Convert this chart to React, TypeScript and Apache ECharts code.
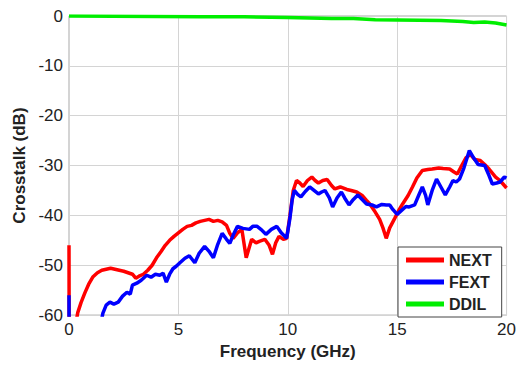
import React, { useEffect, useRef } from "react";
import * as echarts from "echarts";

const xTicks = [0, 5, 10, 15, 20];
const yTicks = [-60, -50, -40, -30, -20, -10, 0];
const seriesNames = ["NEXT", "FEXT", "DDIL"];

const nextData: [number, number][] = [
  [0, -46], [0.01, -70], [0.3, -62], [0.4, -59.5], [0.55, -57.5], [0.73, -55.5], [0.9, -53.8],
  [1.1, -52.3], [1.3, -51.5], [1.5, -51], [1.7, -50.8], [1.9, -50.6], [2.1, -50.8], [2.3, -51],
  [2.5, -51.2], [2.7, -51.5], [2.9, -51.8], [3.05, -52.6], [3.2, -52.2], [3.4, -51.8], [3.6, -51],
  [3.8, -50], [4.0, -48.5], [4.2, -47.3], [4.4, -46], [4.6, -45], [4.8, -44.2], [5.0, -43.5],
  [5.2, -42.8], [5.4, -42.2], [5.6, -42], [5.8, -41.5], [6.0, -41.2], [6.2, -41], [6.4, -40.8],
  [6.6, -41.2], [6.8, -41], [7.0, -41.3], [7.2, -42], [7.35, -43.6], [7.5, -44.6], [7.7, -43.5],
  [7.9, -42.8], [8.1, -48.5], [8.35, -44.8], [8.55, -45.5], [8.7, -45.2], [8.95, -44.8],
  [9.15, -46], [9.3, -47.8], [9.45, -45.5], [9.6, -44.2], [9.8, -44.8], [9.95, -44.6],
  [10.1, -40], [10.25, -35], [10.4, -33], [10.55, -33.5], [10.7, -34.2], [10.9, -33],
  [11.1, -32.3], [11.25, -33], [11.4, -33.5], [11.6, -33], [11.8, -32.8], [12.0, -34],
  [12.15, -34.7], [12.4, -34.3], [12.7, -34.8], [12.9, -35], [13.15, -35.3], [13.4, -36],
  [13.6, -37], [13.75, -37.7], [13.95, -39], [14.2, -40.8], [14.35, -42.5], [14.5, -44.6],
  [14.66, -42.5], [14.9, -40.5], [15.1, -38.8], [15.25, -37.7], [15.5, -36], [15.7, -34.3],
  [15.9, -32.5], [16.15, -31], [16.4, -30.8], [16.6, -30.7], [16.9, -30.5], [17.1, -30.6],
  [17.4, -30.7], [17.6, -31.3], [17.75, -31.7], [17.95, -30], [18.15, -28.4], [18.35, -27.8],
  [18.55, -28.8], [18.8, -29], [19.0, -29.8], [19.2, -30.7], [19.35, -31.5], [19.5, -32.3],
  [19.7, -33], [19.9, -34], [20, -34.5],
];

const fextData: [number, number][] = [
  [0, -56], [0.01, -75], [1.4, -63], [1.55, -59.6], [1.7, -58], [1.87, -57.4], [2.05, -57.8],
  [2.25, -57.4], [2.45, -56.2], [2.65, -55.4], [2.8, -55.8], [2.9, -54], [3.1, -53.6], [3.3, -53],
  [3.55, -52], [3.75, -52.4], [3.95, -51.8], [4.15, -52], [4.3, -51.6], [4.45, -53.4],
  [4.6, -51.8], [4.75, -50.7], [4.9, -50.2], [5.07, -49.5], [5.3, -48.6], [5.5, -48.1],
  [5.75, -49.5], [5.95, -47.6], [6.2, -46.2], [6.4, -47.2], [6.6, -48.5], [6.8, -45.8],
  [7.0, -43.6], [7.2, -44.8], [7.35, -45.6], [7.5, -44], [7.7, -42.2], [7.95, -42.6],
  [8.25, -42.8], [8.4, -42.2], [8.6, -42.2], [8.8, -42.9], [9.0, -43.8], [9.25, -42.8],
  [9.5, -42.2], [9.7, -43.5], [9.95, -44.6], [10.1, -40.5], [10.2, -36.9], [10.3, -35],
  [10.45, -35.8], [10.6, -36.3], [10.8, -35.2], [11.0, -34.3], [11.2, -35], [11.4, -35.7],
  [11.55, -35.3], [11.7, -35], [11.9, -36.5], [12.05, -38.3], [12.25, -36.5], [12.45, -35.3],
  [12.6, -36.5], [12.8, -37.9], [13.0, -36.8], [13.2, -35.9], [13.4, -36.8], [13.6, -37.7],
  [13.85, -37.9], [14.05, -38.3], [14.3, -37.8], [14.5, -37.9], [14.66, -37.9], [14.8, -38.8],
  [15.0, -39.8], [15.2, -39], [15.4, -38.2], [15.55, -38.3], [15.8, -37.9], [16.0, -35.8],
  [16.15, -34.3], [16.3, -36], [16.4, -37.9], [16.6, -35], [16.8, -32.7], [17.0, -34.3],
  [17.2, -35.9], [17.4, -34.3], [17.55, -33], [17.7, -33.3], [17.85, -32.7], [18.05, -30.5],
  [18.3, -27], [18.5, -28.5], [18.7, -29.8], [19.0, -30], [19.2, -32], [19.35, -33.7],
  [19.55, -33.5], [19.7, -33.3], [19.9, -32.3], [20, -32.5],
];

const ddilData: [number, number][] = [
  [0, 0], [2, -0.05], [4, -0.1], [6, -0.15], [8, -0.15], [10, -0.3], [12, -0.5], [13, -0.5],
  [14, -0.75], [15, -0.8], [16, -0.85], [17, -0.9], [18, -1.1], [18.5, -1.3], [19, -1.2],
  [19.5, -1.4], [20, -1.8],
];

const colors = ["#ff0000", "#0000ff", "#00ee00"];

export default function App() {
  const ref = useRef<HTMLDivElement>(null);
  useEffect(() => {
    if (!ref.current) return;
    const chart = echarts.init(ref.current, undefined, { renderer: "svg" });
    const font = "'Liberation Sans', Arial, sans-serif";
    const datasets = [nextData, fextData, ddilData];
    chart.setOption({
      animation: false,
      backgroundColor: "#ffffff",
      grid: {
        left: 69,
        right: 12,
        top: 16,
        bottom: 44,
        show: true,
        borderColor: "#a8a8a8",
        borderWidth: 1,
      },
      xAxis: {
        type: "value",
        min: xTicks[0],
        max: xTicks[xTicks.length - 1],
        interval: xTicks[1] - xTicks[0],
        name: "Frequency (GHz)",
        nameLocation: "middle",
        nameGap: 25,
        nameTextStyle: { fontFamily: font, fontSize: 17, fontWeight: "bold", color: "#222" },
        axisLine: { show: false },
        axisTick: { show: false },
        axisLabel: { fontFamily: font, fontSize: 17, color: "#222", margin: 6 },
        splitLine: { show: true, lineStyle: { color: "#d4d4d4", width: 1 } },
      },
      yAxis: {
        type: "value",
        min: yTicks[0],
        max: yTicks[yTicks.length - 1],
        interval: 10,
        name: "Crosstalk (dB)",
        nameLocation: "middle",
        nameGap: 40,
        nameTextStyle: { fontFamily: font, fontSize: 17, fontWeight: "bold", color: "#222" },
        axisLine: { show: false },
        axisTick: { show: false },
        axisLabel: { fontFamily: font, fontSize: 17, color: "#222", margin: 6 },
        splitLine: { show: true, lineStyle: { color: "#d4d4d4", width: 1 } },
      },
      legend: {
        orient: "vertical",
        left: 398,
        top: 247,
        data: seriesNames,
        icon: "rect",
        itemWidth: 38,
        itemHeight: 5,
        itemGap: 6,
        padding: [5, 10, 5, 8],
        borderColor: "#444",
        borderWidth: 1,
        backgroundColor: "#ffffff",
        textStyle: { fontFamily: font, fontSize: 16, fontWeight: "bold", color: "#222" },
      },
      series: seriesNames.map((name, i) => ({
        name,
        type: "line",
        data: datasets[i],
        showSymbol: false,
        symbol: "none",
        clip: true,
        color: colors[i],
        lineStyle: { color: colors[i], width: 3.5 },
        z: 2 + i,
      })),
    });
    return () => chart.dispose();
  }, []);
  return (
    <div
      ref={ref}
      style={{ position: "fixed", left: 0, top: 0, width: 519, height: 365, background: "#fff" }}
    />
  );
}
